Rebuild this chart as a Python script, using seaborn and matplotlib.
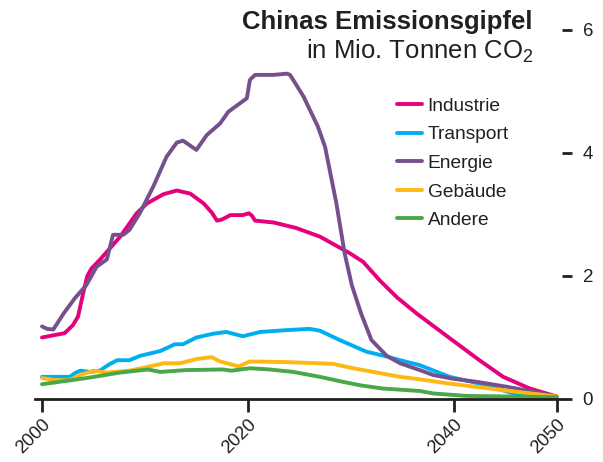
import matplotlib
matplotlib.use("Agg")
import matplotlib.pyplot as plt
import seaborn as sns
import pandas as pd

# Emissions by sector, million tonnes CO2 (year, value pairs per sector)
industrie_years = [2000, 2002.2, 2003.0, 2003.5, 2004.0, 2004.4, 2004.8, 2005.6, 2006.6, 2007.6,
                   2009.2, 2010.2, 2011.8, 2013.1, 2014.4, 2015.7, 2016.5, 2017.0, 2017.5, 2018.3,
                   2019.5, 2020.1, 2020.4, 2020.7, 2022.5, 2024.7, 2027.0, 2029.9, 2031.2, 2032.8,
                   2034.5, 2036.4, 2039.6, 2042.5, 2044.8, 2047.4, 2050]
industrie_vals = [1.00, 1.07, 1.20, 1.34, 1.72, 2.00, 2.12, 2.26, 2.45, 2.64,
                  3.02, 3.18, 3.33, 3.39, 3.34, 3.18, 3.03, 2.90, 2.92, 2.99,
                  2.99, 3.02, 2.98, 2.90, 2.87, 2.78, 2.64, 2.37, 2.23, 1.93,
                  1.65, 1.39, 0.99, 0.63, 0.36, 0.17, 0.04]

transport_years = [2000, 2002.7, 2003.2, 2003.7, 2004.7, 2005.6, 2006.5, 2007.3, 2008.5, 2009.5,
                   2011.5, 2012.9, 2013.7, 2015.0, 2016.6, 2017.9, 2019.5, 2021.2, 2023.8, 2026.0,
                   2027.0, 2028.9, 2031.5, 2033.5, 2034.8, 2036.7, 2039.6, 2042.5, 2045.8, 2050]
transport_vals = [0.36, 0.36, 0.42, 0.46, 0.44, 0.46, 0.56, 0.63, 0.63, 0.70,
                  0.78, 0.89, 0.89, 1.00, 1.06, 1.09, 1.02, 1.09, 1.12, 1.14,
                  1.11, 0.96, 0.77, 0.69, 0.63, 0.55, 0.36, 0.25, 0.09, 0.01]

energie_years = [2000, 2000.5, 2001.1, 2002.1, 2003.2, 2004.3, 2005.3, 2006.3, 2006.9, 2007.9,
                 2008.5, 2009.5, 2010.8, 2012.1, 2013.1, 2013.7, 2015.0, 2016.0, 2017.3, 2018.1,
                 2019.9, 2020.2, 2020.7, 2022.5, 2023.8, 2024.1, 2025.4, 2026.8, 2027.5, 2028.6,
                 2029.4, 2030.1, 2031.0, 2032.0, 2033.5, 2034.8, 2036.7, 2038.0, 2039.9, 2042.2,
                 2045.1, 2047.7, 2050]
energie_vals = [1.18, 1.14, 1.13, 1.39, 1.64, 1.85, 2.15, 2.27, 2.67, 2.67,
                2.75, 3.02, 3.45, 3.94, 4.17, 4.20, 4.05, 4.29, 4.48, 4.67,
                4.89, 5.19, 5.27, 5.27, 5.29, 5.27, 4.92, 4.43, 4.10, 3.18,
                2.37, 1.85, 1.39, 0.96, 0.70, 0.58, 0.47, 0.39, 0.33, 0.28,
                0.20, 0.12, 0.04]

gebaeude_years = [2000, 2001.2, 2002.4, 2003.0, 2003.7, 2005.0, 2006.3, 2008.5, 2010.2, 2011.8,
                  2013.4, 2015.0, 2016.5, 2017.3, 2019.1, 2020.2, 2023.8, 2027.0, 2028.3, 2030.2,
                  2032.2, 2034.8, 2036.7, 2039.6, 2044.5, 2050]
gebaeude_vals = [0.34, 0.31, 0.30, 0.33, 0.39, 0.46, 0.43, 0.46, 0.52, 0.58,
                 0.58, 0.65, 0.68, 0.61, 0.53, 0.61, 0.60, 0.58, 0.57, 0.50,
                 0.44, 0.36, 0.32, 0.25, 0.15, 0.04]

andere_years = [2000, 2004.3, 2007.6, 2010.3, 2011.5, 2014.0, 2017.6, 2018.4, 2020.2, 2022.1,
                2024.4, 2027.0, 2029.2, 2031.0, 2033.1, 2036.7, 2038.0, 2041.2, 2050]
andere_vals = [0.24, 0.34, 0.43, 0.48, 0.44, 0.47, 0.48, 0.46, 0.50, 0.48,
               0.44, 0.36, 0.28, 0.22, 0.17, 0.13, 0.09, 0.05, 0.03]

sectors = ["Industrie", "Transport", "Energie", "Gebäude", "Andere"]
colors = ["#e5007d", "#00aeef", "#76508c", "#fdb913", "#4aa84a"]
x_ticks = [2000, 2020, 2040, 2050]
y_ticks = [0, 2, 4, 6]

series = {
    "Industrie": (industrie_years, industrie_vals),
    "Transport": (transport_years, transport_vals),
    "Energie": (energie_years, energie_vals),
    "Gebäude": (gebaeude_years, gebaeude_vals),
    "Andere": (andere_years, andere_vals),
}
rows = []
for name in sectors:
    ys, vs = series[name]
    rows += [{"Jahr": y, "Wert": v, "Sektor": name} for y, v in zip(ys, vs)]
df = pd.DataFrame(rows)

sns.set_theme(style="white")
plt.rcParams["font.family"] = ["Liberation Sans", "DejaVu Sans"]
plt.rcParams["mathtext.fontset"] = "custom"
plt.rcParams["mathtext.rm"] = "Liberation Sans"
plt.rcParams["mathtext.default"] = "regular"

ink = "#231f20"
fig = plt.figure(figsize=(6.03, 4.62), dpi=100)
ax = fig.add_axes([0.0577, 0.1364, 0.874, 0.8253])

sns.lineplot(data=df, x="Jahr", y="Wert", hue="Sektor", hue_order=sectors,
             palette=dict(zip(sectors, colors)), estimator=None, sort=True,
             linewidth=2.8, ax=ax)
for line in ax.get_lines():
    line.set_solid_capstyle("round")
    line.set_solid_joinstyle("round")

ax.set_xlim(1999.3, 2050.5)
ax.set_ylim(0, 6.2)
ax.set_xlabel("")
ax.set_ylabel("")

for side in ["top", "left", "right"]:
    ax.spines[side].set_visible(False)
ax.spines["bottom"].set_color(ink)
ax.spines["bottom"].set_linewidth(2.0)

ax.set_xticks(x_ticks)
ax.set_xticklabels([str(t) for t in x_ticks], rotation=45, ha="right", va="top",
                   rotation_mode="anchor", fontsize=13.2, color=ink)
ax.tick_params(axis="x", direction="out", length=9.5, width=2.0, color=ink, pad=3, bottom=True)

ax.yaxis.tick_right()
ax.set_yticks(y_ticks)
ax.set_yticklabels([str(t) for t in y_ticks], fontsize=13.5, color=ink)
ax.tick_params(axis="y", direction="out", length=7.5, width=2.0, color=ink, pad=7.5, right=True, left=False)

leg = ax.legend(loc="upper left", bbox_to_anchor=(397 / 603, 1 - 97.5 / 462),
                bbox_transform=fig.transFigure, frameon=False, fontsize=13.8,
                handlelength=1.3, handletextpad=0.3, labelspacing=0.58,
                borderpad=0, borderaxespad=0)
for h in leg.get_lines():
    h.set_linewidth(2.8)
for t in leg.get_texts():
    t.set_color(ink)

fig.text(533 / 603, 1 - 29.5 / 462, "Chinas Emissionsgipfel", ha="right", va="baseline",
         fontsize=18.5, fontweight="bold", color=ink)
fig.text(533 / 603, 1 - 59 / 462, "in Mio. Tonnen CO$_2$", ha="right", va="baseline",
         fontsize=18.5, color=ink)

fig.savefig("out.png", dpi=100)
